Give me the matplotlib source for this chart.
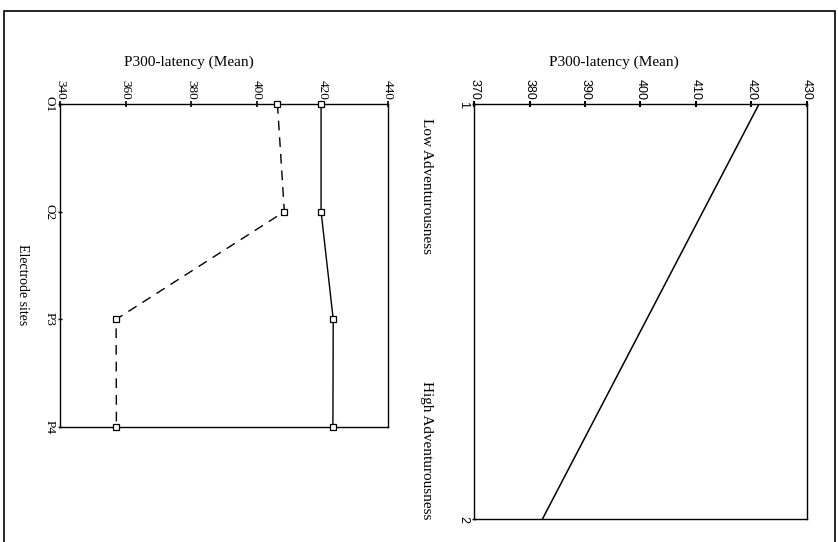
import matplotlib
matplotlib.use("Agg")
import matplotlib.pyplot as plt
from matplotlib.patches import Rectangle

# ---- data ----
sites = ["O1", "O2", "P3", "P4"]
series_solid = [419.6, 419.6, 423.3, 423.2]
series_dashed = [406.3, 408.4, 357.1, 357.2]
lat_ticks_left = [340, 360, 380, 400, 420, 440]

adv_levels = [1, 2]
adv_latency = [421.4, 382.3]
lat_ticks_right = [370, 380, 390, 400, 410, 420, 430]
adv_text = ["Low Adventurousness", "High Adventurousness"]

W, H = 838, 542
fig = plt.figure(figsize=(W / 100, H / 100), dpi=100)
fig.patch.set_facecolor("white")

serif = "Liberation Serif"
sans = "Liberation Sans"

def fx(px):
    return px / W

def fy(py):
    return 1 - py / H

# outer border
fig.patches.append(Rectangle((fx(4), fy(548)), fx(835) - fx(4), fy(11) - fy(548),
                             transform=fig.transFigure, fill=False, lw=1.2,
                             edgecolor="black"))

# ---- left panel ----
axL = fig.add_axes([fx(60), fy(427), fx(388) - fx(60), fy(104) - fy(427)])
pos = list(range(len(sites)))
axL.plot(series_solid, pos, color="black", lw=1.0, marker="s", ms=5,
         mfc="white", mec="black", mew=0.9, clip_on=False, zorder=5)
axL.plot(series_dashed, pos, color="black", lw=1.0, ls=(0, (7, 5)), marker="s",
         ms=5, mfc="white", mec="black", mew=0.9, clip_on=False, zorder=5)
axL.set_xlim(340, 440)
axL.set_ylim(len(sites) - 1, 0)
axL.set_xticks(lat_ticks_left)
axL.set_xticklabels([str(t) for t in lat_ticks_left], rotation=-90,
                    fontfamily=serif, fontsize=9.5)
axL.set_yticks(pos)
axL.set_yticklabels(sites, rotation=-90, fontfamily=serif, fontsize=9.5,
                    va="center")
axL.xaxis.tick_top()
axL.tick_params(axis="x", direction="inout", length=4, pad=1, width=1.2)
axL.tick_params(axis="y", direction="inout", length=3, pad=2, width=1.0)
for s in axL.spines.values():
    s.set_linewidth(1.0)

fig.text(fx(189), fy(62), "P300-latency (Mean)", fontfamily=serif,
         fontsize=11, ha="center", va="center")
fig.text(fx(22), fy(285), "Electrode sites", fontfamily=serif, fontsize=10,
         rotation=-90, ha="center", va="center")

# ---- right panel ----
axR = fig.add_axes([fx(474.3), fy(519), fx(806.7) - fx(474.3), fy(104) - fy(519)])
axR.plot(adv_latency, adv_levels, color="black", lw=1.1)
axR.set_xlim(370, 430)
axR.set_ylim(2, 1)
axR.set_xticks(lat_ticks_right)
axR.set_xticklabels([str(t) for t in lat_ticks_right], rotation=-90,
                    fontfamily=sans, fontsize=9)
axR.set_yticks(adv_levels)
axR.set_yticklabels([str(v) for v in adv_levels], rotation=-90,
                    fontfamily=sans, fontsize=9, va="center")
axR.xaxis.tick_top()
axR.tick_params(axis="x", direction="inout", length=4, pad=1, width=1.5)
axR.tick_params(axis="y", direction="inout", length=3, pad=2, width=1.0)
for s in axR.spines.values():
    s.set_linewidth(1.0)

fig.text(fx(614), fy(62), "P300-latency (Mean)", fontfamily=serif,
         fontsize=11, ha="center", va="center")
fig.text(fx(426), fy(186), adv_text[0], fontfamily=serif, fontsize=11,
         rotation=-90, ha="center", va="center")
fig.text(fx(426), fy(450), adv_text[1], fontfamily=serif, fontsize=11,
         rotation=-90, ha="center", va="center")

fig.savefig("out.png", dpi=100)
